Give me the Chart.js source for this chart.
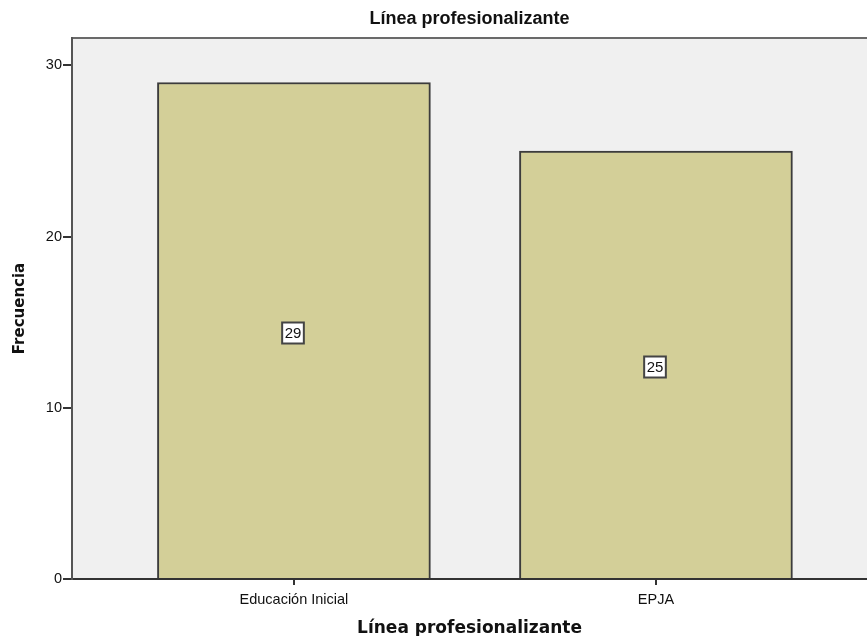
<!DOCTYPE html>
<html>
<head>
<meta charset="utf-8">
<script src="https://cdn.jsdelivr.net/npm/chart.js@4"></script>
<style>
  html, body { margin: 0; padding: 0; background: #fff; overflow: hidden; }
  #wrap { width: 867px; height: 636px; position: relative; }
</style>
</head>
<body>
<div id="wrap"><canvas id="barChart"></canvas></div>
<script>
const categories = ['Educación Inicial', 'EPJA'];
const frequencies = [29, 25];
const yTicks = [0, 10, 20, 30];
const chartTitle = 'Línea profesionalizante';
const xTitle = 'Línea profesionalizante';
const yTitle = 'Frecuencia';

// grey plot background
const plotBackground = {
    id: 'plotBackground',
    beforeDraw(chart) {
        const a = chart.chartArea;
        const c = chart.ctx;
        c.save();
        c.fillStyle = '#f0f0f0';
        c.fillRect(a.left, a.top, a.right - a.left, a.bottom - a.top);
        c.restore();
    }
};

// boxed value labels in the middle of each bar
const boxedLabels = {
    id: 'boxedLabels',
    afterDatasetsDraw(chart) {
        const c = chart.ctx;
        const meta = chart.getDatasetMeta(0);
        c.save();
        c.font = '15px "Liberation Sans", Arial, sans-serif';
        c.textAlign = 'center';
        c.textBaseline = 'middle';
        meta.data.forEach((bar, i) => {
            const text = String(frequencies[i]);
            const cx = Math.round(bar.x) - 1;
            const cy = Math.round((bar.y + bar.base) / 2) + 3;
            const w = c.measureText(text).width + 5;
            const h = 21;
            c.fillStyle = '#ffffff';
            c.fillRect(cx - w / 2, cy - h / 2, w, h);
            c.lineWidth = 2;
            c.strokeStyle = '#444444';
            c.strokeRect(cx - w / 2, cy - h / 2, w, h);
            c.fillStyle = '#111111';
            c.fillText(text, cx, cy + 1);
        });
        c.restore();
    }
};

new Chart(document.getElementById('barChart'), {
    type: 'bar',
    data: {
        datasets: [{
            label: yTitle,
            data: frequencies.map((v, i) => ({ x: i, y: v })),
            backgroundColor: '#d3cf98',
            borderColor: '#3c3c3c',
            borderWidth: 2,
            barThickness: 273
        }]
    },
    options: {
        responsive: true,
        maintainAspectRatio: false,
        animation: false,
        layout: { padding: 0 },
        plugins: {
            legend: { display: false },
            tooltip: { enabled: false }
        },
        scales: {
            x: {
                type: 'linear',
                position: 'bottom',
                offset: false,
                min: -0.613,
                max: 1.583,
                afterBuildTicks: s => { s.ticks = categories.map((c, i) => ({ value: i })); },
                afterFit: s => { s.height = 57; },
                ticks: {
                    autoSkip: false,
                    maxRotation: 0,
                    padding: 6,
                    color: '#111',
                    font: { family: '"Liberation Sans", Arial, sans-serif', size: 14.5 },
                    callback: v => categories[v]
                },
                grid: { offset: false, drawOnChartArea: false, drawTicks: true, tickLength: 6, color: '#333', lineWidth: 2 },
                border: { display: true, color: '#333', width: 2 },
                title: {
                    display: true,
                    text: xTitle,
                    color: '#111',
                    padding: { top: 0, bottom: -3 },
                    font: { family: '"DejaVu Sans", sans-serif', size: 17, weight: 'bold' }
                }
            },
            top: {
                type: 'linear',
                position: 'top',
                min: 0,
                max: 1,
                afterFit: s => { s.height = 38; },
                ticks: { display: false },
                grid: { display: false, drawTicks: false },
                border: { display: true, color: '#6a6a6a', width: 2 },
                title: {
                    display: true,
                    text: chartTitle,
                    color: '#111',
                    padding: { top: 8, bottom: 0 },
                    font: { family: '"Liberation Sans", Arial, sans-serif', size: 18, weight: 'bold' }
                }
            },
            y: {
                min: 0,
                max: 31.6,
                afterBuildTicks: s => { s.ticks = yTicks.map(v => ({ value: v })); },
                afterFit: s => { s.width = 72; },
                ticks: {
                    padding: 1,
                    color: '#111',
                    font: { family: '"Liberation Sans", Arial, sans-serif', size: 14.5 }
                },
                grid: { drawOnChartArea: false, drawTicks: true, tickLength: 9, color: '#333', lineWidth: 2 },
                border: { display: true, color: '#555', width: 2 },
                title: {
                    display: true,
                    text: yTitle,
                    color: '#111',
                    padding: { top: 11, bottom: 0 },
                    font: { family: '"DejaVu Sans", sans-serif', size: 15, weight: 'bold' }
                }
            }
        }
    },
    plugins: [plotBackground, boxedLabels]
});
</script>
</body>
</html>
